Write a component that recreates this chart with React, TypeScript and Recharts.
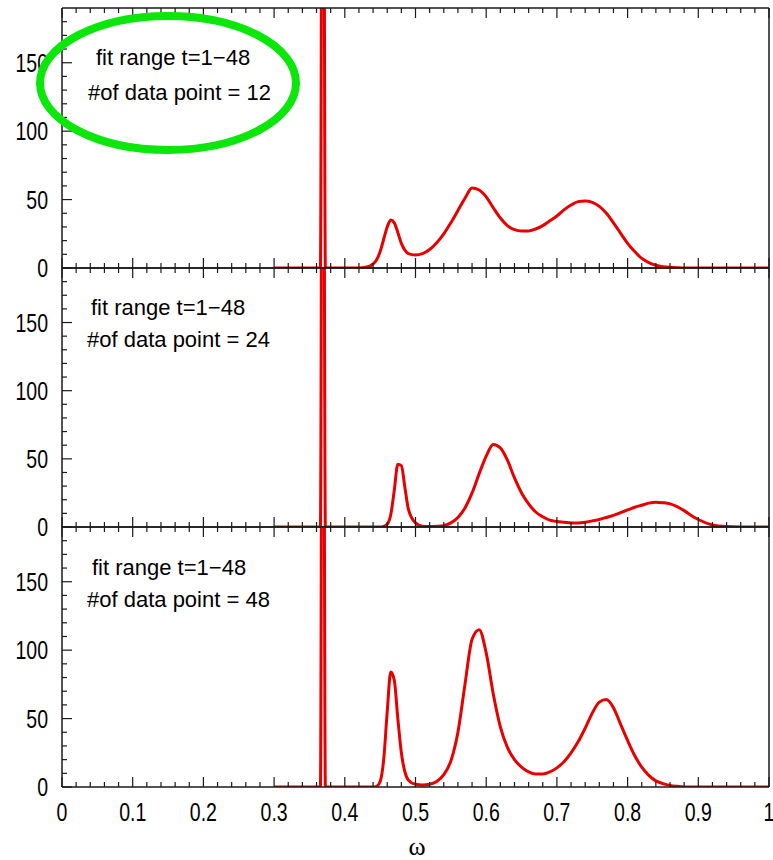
import { LineChart, Line, XAxis, YAxis } from 'recharts'

// spectral function estimates, shared omega grid
const omega = [
  0.3, 0.36, 0.3655, 0.369, 0.3725, 0.38, 0.4, 0.42, 0.43, 0.44, 0.445, 0.45, 0.455, 0.46, 0.465,
  0.47, 0.475, 0.48, 0.485, 0.49, 0.5, 0.51, 0.52, 0.53, 0.54, 0.55, 0.56, 0.57, 0.58, 0.59,
  0.6, 0.61, 0.62, 0.63, 0.64, 0.65, 0.66, 0.67, 0.68, 0.69, 0.7, 0.71, 0.72, 0.73, 0.74,
  0.75, 0.76, 0.77, 0.78, 0.79, 0.8, 0.81, 0.82, 0.83, 0.84, 0.85, 0.86, 0.87, 0.88, 0.89,
  0.9, 0.92, 0.94, 0.96, 1,
]

const rho12 = [
  0, 0, 0, 600, 0, 0, 0, 0, 0.5, 3, 6, 12, 21, 30, 35,
  33, 26, 18, 13, 10.5, 9.5, 10.5, 13.5, 18.5, 25, 33, 42, 51, 58.5, 57,
  52, 44, 36.5, 31, 28, 27, 27, 28.5, 31, 34.5, 38, 42.5, 46, 48.5, 49,
  48, 45, 40, 33, 25.5, 18, 12, 7, 4, 2, 1, 0.5, 0.2, 0, 0,
  0, 0, 0, 0, 0,
]

const rho24 = [
  0, 0, 0, 600, 0, 0, 0, 0, 0, 0, 0, 0, 0.5, 2, 9,
  27, 46, 45, 29, 13, 3, 0.5, 0.3, 0.5, 1, 3, 7, 14, 25, 39,
  52, 60.5, 58, 49, 36, 25, 17, 11, 7.5, 5, 4, 3.5, 3, 3, 3.5,
  4.5, 5.5, 7, 8.5, 10.5, 12.5, 14.5, 16, 17.5, 18.2, 17.8, 17, 15, 12, 8.5,
  5.5, 1.5, 0.3, 0, 0,
]

const rho48 = [
  0, 0, 0, 600, 0, 0, 0, 0, 0, 0, 0.5, 4, 20, 55, 84,
  78, 50, 25, 11, 5, 2, 1.5, 2, 4, 9, 19, 40, 75, 108, 115,
  98, 68, 44, 29, 20, 14.5, 11, 9.5, 9.5, 11, 14, 18.5, 25, 33, 43,
  54, 62, 64, 58, 46, 34, 23, 14.5, 8.5, 4.5, 2.5, 1.2, 0.5, 0, 0,
  0, 0, 0, 0, 0,
]

const xTicks = [
  0, 0.02, 0.04, 0.06, 0.08, 0.1, 0.12, 0.14, 0.16, 0.18, 0.2, 0.22, 0.24, 0.26, 0.28, 0.3,
  0.32, 0.34, 0.36, 0.38, 0.4, 0.42, 0.44, 0.46, 0.48, 0.5, 0.52, 0.54, 0.56, 0.58, 0.6,
  0.62, 0.64, 0.66, 0.68, 0.7, 0.72, 0.74, 0.76, 0.78, 0.8, 0.82, 0.84, 0.86, 0.88, 0.9,
  0.92, 0.94, 0.96, 0.98, 1,
]
const yTicks = [0, 10, 20, 30, 40, 50, 60, 70, 80, 90, 100, 110, 120, 130, 140, 150, 160, 170, 180]

const fitLabel = 'fit range t=1\u221248'
const pointLabels = ['#of data point = 12', '#of data point = 24', '#of data point = 48']

const AXIS = '#1a1a1a'
const RED = '#e80000'
const TICK_FONT = '"Liberation Sans", Arial, sans-serif'
const TEXT_FONT = '"Liberation Sans", Arial, sans-serif'

const isMajorX = (v: number) => Math.round(v * 100) % 10 === 0
const isMajorY = (v: number) => v % 50 === 0

// condensed tick label, like the narrow Helvetica of the original plot
function TickText({ x, y, anchor, children }: any) {
  return (
    <text
      transform={`translate(${x},${y}) scale(0.78,1)`}
      textAnchor={anchor}
      fontSize={25}
      fontFamily={TICK_FONT}
      fill="#000"
    >
      {children}
    </text>
  )
}

function BottomTick(props: any) {
  const { x, y, payload, showLabel } = props
  const major = isMajorX(payload.value)
  return (
    <g>
      <line x1={x} x2={x} y1={y} y2={y - (major ? 10 : 5)} stroke={AXIS} strokeWidth={1.2} />
      {showLabel && major && (
        <TickText x={x} y={y + 34} anchor="middle">
          {String(payload.value)}
        </TickText>
      )}
    </g>
  )
}

function TopTick(props: any) {
  const { x, y, payload } = props
  const major = isMajorX(payload.value)
  return <line x1={x} x2={x} y1={y} y2={y + (major ? 10 : 5)} stroke={AXIS} strokeWidth={1.2} />
}

function LeftTick(props: any) {
  const { x, y, payload } = props
  const major = isMajorY(payload.value)
  return (
    <g>
      <line x1={x} x2={x + (major ? 10 : 5)} y1={y} y2={y} stroke={AXIS} strokeWidth={1.2} />
      {major && (
        <TickText x={x - 14} y={y + 9} anchor="end">
          {payload.value}
        </TickText>
      )}
    </g>
  )
}

function RightTick(props: any) {
  const { x, y, payload } = props
  const major = isMajorY(payload.value)
  return <line x1={x} x2={x - (major ? 10 : 5)} y1={y} y2={y} stroke={AXIS} strokeWidth={1.2} />
}

function Panel({ values, top, height, margin, showLabels }: any) {
  const data = omega.map((w, i) => ({ omega: w, rho: values[i] }))
  const axisLine = { stroke: AXIS, strokeWidth: 1.5 }
  return (
    <div style={{ position: 'absolute', left: 0, top }}>
      <LineChart width={773} height={height} data={data} margin={margin}>
        <XAxis
          xAxisId="b"
          dataKey="omega"
          type="number"
          domain={[0, 1]}
          ticks={xTicks}
          interval={0}
          height={1}
          tickSize={0}
          tickMargin={0}
          axisLine={axisLine}
          tickLine={false}
          tick={(p: any) => <BottomTick {...p} showLabel={showLabels} />}
          allowDataOverflow
        />
        <XAxis
          xAxisId="t"
          orientation="top"
          dataKey="omega"
          type="number"
          domain={[0, 1]}
          ticks={xTicks}
          interval={0}
          height={1}
          tickSize={0}
          tickMargin={0}
          axisLine={axisLine}
          tickLine={false}
          tick={(p: any) => <TopTick {...p} />}
        />
        <YAxis
          yAxisId="l"
          type="number"
          domain={[0, 190]}
          ticks={yTicks}
          interval={0}
          width={62}
          tickSize={0}
          tickMargin={0}
          axisLine={axisLine}
          tickLine={false}
          tick={(p: any) => <LeftTick {...p} />}
          allowDataOverflow
        />
        <YAxis
          yAxisId="r"
          orientation="right"
          type="number"
          domain={[0, 190]}
          ticks={yTicks}
          interval={0}
          width={1}
          tickSize={0}
          tickMargin={0}
          axisLine={axisLine}
          tickLine={false}
          tick={(p: any) => <RightTick {...p} />}
        />
        <Line
          xAxisId="b"
          yAxisId="l"
          dataKey="rho"
          type="monotone"
          stroke={RED}
          strokeWidth={3}
          dot={false}
          isAnimationActive={false}
        />
      </LineChart>
    </div>
  )
}

export default function App() {
  return (
    <div
      style={{
        position: 'absolute',
        left: 0,
        top: 0,
        width: 773,
        height: 860,
        background: '#fff',
        overflow: 'hidden',
      }}
    >
      {/* plot areas: 8-268, 268-527, 527-787; x from 62 to 769 */}
      <Panel values={rho12} top={0} height={290} margin={{ top: 7, right: 3, bottom: 21, left: 0 }} />
      <Panel values={rho24} top={250} height={300} margin={{ top: 17, right: 3, bottom: 22, left: 0 }} />
      <Panel
        values={rho48}
        top={510}
        height={350}
        margin={{ top: 16, right: 3, bottom: 72, left: 0 }}
        showLabels
      />
      <svg
        width={773}
        height={860}
        style={{ position: 'absolute', left: 0, top: 0, pointerEvents: 'none' }}
      >
        <ellipse cx={168} cy={83} rx={128} ry={67} fill="none" stroke="#0be60b" strokeWidth={8} />
        <g fontFamily={TEXT_FONT} fontSize={22} fill="#000">
          <text x={96} y={65}>{fitLabel}</text>
          <text x={88} y={100}>{pointLabels[0]}</text>
          <text x={91} y={315}>{fitLabel}</text>
          <text x={87} y={347}>{pointLabels[1]}</text>
          <text x={92} y={575}>{fitLabel}</text>
          <text x={87} y={607}>{pointLabels[2]}</text>
        </g>
        <text
          x={417}
          y={855}
          textAnchor="middle"
          fontSize={26}
          fontFamily='"Liberation Serif", "DejaVu Serif", serif'
          fill="#000"
        >
          ω
        </text>
      </svg>
    </div>
  )
}
